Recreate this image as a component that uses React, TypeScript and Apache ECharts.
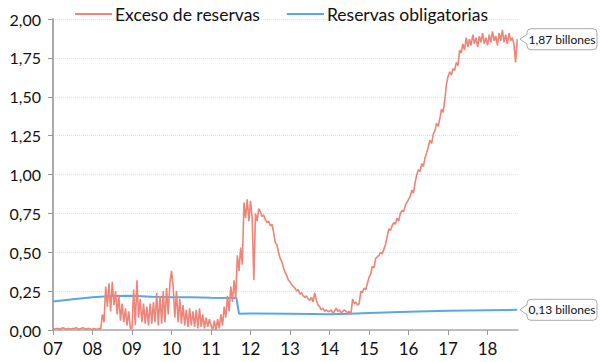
import React, { useEffect, useRef } from "react";
import * as echarts from "echarts";

// Excess reserves (billions), semi-monthly samples per year
const ex2007 = [0.01, 0.005, 0.01, 0.01, 0.005, 0.01, 0.015, 0.01, 0.005, 0.01, 0.01, 0.005, 0.01, 0.01, 0.015, 0.01, 0.005, 0.01, 0.015, 0.01, 0.005, 0.01, 0.01, 0.005];
const ex2008 = [0.005, 0.01, 0.005, 0.005, 0.01, 0.005, 0.1, 0.05, 0.28, 0.15, 0.3, 0.12, 0.31, 0.16, 0.25, 0.1, 0.22, 0.06, 0.17, 0.05, 0.14, 0.03, 0.12, 0.01];
const ex2009 = [0.01, 0.26, 0.03, 0.32, 0.08, 0.2, 0.05, 0.17, 0.04, 0.15, 0.03, 0.17, 0.04, 0.18, 0.05, 0.24, 0.03, 0.22, 0.04, 0.25, 0.05, 0.27, 0.1, 0.3];
const ex2010 = [0.38, 0.28, 0.08, 0.25, 0.05, 0.2, 0.04, 0.16, 0.03, 0.13, 0.02, 0.14, 0.03, 0.12, 0.02, 0.13, 0.01, 0.14, 0.02, 0.1, 0.01, 0.08, 0.02, 0.07];
const ex2011 = [0.03, 0.0, 0.06, 0.0, 0.07, 0.01, 0.1, 0.03, 0.15, 0.08, 0.22, 0.12, 0.28, 0.18, 0.32, 0.2, 0.48, 0.38, 0.53, 0.42, 0.82, 0.72, 0.84, 0.7];
const ex2012 = [0.83, 0.72, 0.32, 0.75, 0.7, 0.78, 0.76, 0.73, 0.74, 0.71, 0.69, 0.7, 0.67, 0.68, 0.63, 0.56, 0.55, 0.5, 0.46, 0.44, 0.4, 0.37, 0.35, 0.32];
const ex2013 = [0.31, 0.29, 0.28, 0.27, 0.25, 0.26, 0.23, 0.24, 0.22, 0.21, 0.22, 0.2, 0.19, 0.21, 0.18, 0.24, 0.19, 0.16, 0.15, 0.13, 0.14, 0.12, 0.13, 0.12];
const ex2014 = [0.12, 0.13, 0.11, 0.12, 0.14, 0.12, 0.13, 0.11, 0.12, 0.13, 0.12, 0.11, 0.12, 0.1, 0.2, 0.17, 0.18, 0.16, 0.17, 0.25, 0.24, 0.27, 0.26, 0.3];
const ex2015 = [0.34, 0.36, 0.41, 0.4, 0.46, 0.47, 0.48, 0.5, 0.49, 0.52, 0.55, 0.6, 0.65, 0.64, 0.67, 0.69, 0.68, 0.72, 0.7, 0.75, 0.77, 0.76, 0.8, 0.82];
const ex2016 = [0.84, 0.86, 0.9, 0.88, 0.95, 1.0, 1.03, 1.02, 1.07, 1.05, 1.11, 1.14, 1.18, 1.22, 1.2, 1.26, 1.28, 1.33, 1.31, 1.36, 1.42, 1.4, 1.48, 1.58];
const ex2017 = [1.63, 1.66, 1.64, 1.68, 1.67, 1.72, 1.7, 1.8, 1.78, 1.84, 1.8, 1.88, 1.82, 1.87, 1.83, 1.9, 1.84, 1.88, 1.82, 1.89, 1.85, 1.91, 1.84, 1.88];
const ex2018 = [1.83, 1.9, 1.85, 1.92, 1.86, 1.89, 1.83, 1.91, 1.86, 1.93, 1.85, 1.9, 1.84, 1.91, 1.86, 1.88, 1.84, 1.72, 1.87];
const excessYears = [2007, 2008, 2009, 2010, 2011, 2012, 2013, 2014, 2015, 2016, 2017, 2018];
const excessByYear = [ex2007, ex2008, ex2009, ex2010, ex2011, ex2012, ex2013, ex2014, ex2015, ex2016, ex2017, ex2018];
const samplesPerYear = 24;

// Required reserves (billions)
const reqDates = [2007.0, 2007.5, 2008.0, 2008.5, 2009.0, 2009.5, 2010.0, 2010.5, 2011.0, 2011.5, 2011.64, 2011.71, 2012.0, 2013.0, 2014.0, 2014.5, 2015.0, 2016.0, 2017.0, 2018.0, 2018.75];
const reqValues = [0.183, 0.198, 0.21, 0.218, 0.22, 0.214, 0.21, 0.21, 0.207, 0.206, 0.206, 0.104, 0.106, 0.104, 0.102, 0.104, 0.11, 0.117, 0.123, 0.127, 0.13];

const xTicks = ["07", "08", "09", "10", "11", "12", "13", "14", "15", "16", "17", "18"];
const seriesNames = ["Exceso de reservas", "Reservas obligatorias"];
const colors = ["#EF8478", "#5BA7E2"];
const FONT = "Lato";

const fmt = (v: number) => v.toFixed(2).replace(".", ",");

export default function App() {
  const ref = useRef<HTMLDivElement>(null);
  useEffect(() => {
    if (!ref.current) return;
    const chart = echarts.init(ref.current, null, { renderer: "svg" });
    const excess: number[][] = [];
    excessByYear.forEach((arr, yi) => {
      arr.forEach((v, i) => excess.push([excessYears[yi] + i / samplesPerYear, v]));
    });
    const req = reqDates.map((d, i) => [d, reqValues[i]]);
    const xMax = 2018.77;
    chart.setOption({
      animation: false,
      textStyle: { fontFamily: FONT },
      legend: {
        left: 70,
        top: 0,
        icon: "rect",
        itemWidth: 37,
        itemHeight: 2,
        itemGap: 27,
        textStyle: { fontFamily: FONT, fontSize: 17.5, color: "#111", padding: [0, 0, 0, -2] },
        data: seriesNames,
      },
      grid: { left: 53, right: 82, top: 19, bottom: 32 },
      xAxis: {
        type: "value",
        min: 2007,
        max: xMax,
        interval: 1,
        axisLine: { show: true, lineStyle: { color: "#aaa", width: 1.5 } },
        axisTick: { show: true, length: 5, lineStyle: { color: "#999" } },
        splitLine: { show: false },
        axisLabel: {
          formatter: (v: number) => xTicks[Math.round(v) - 2007] ?? "",
          color: "#111",
          fontSize: 17,
          fontFamily: FONT,
          margin: 10,
          showMaxLabel: false,
        },
      },
      yAxis: {
        type: "value",
        min: 0,
        max: 2,
        interval: 0.25,
        axisLine: { show: true, lineStyle: { color: "#aaa", width: 2 } },
        axisTick: { show: true, length: 5, lineStyle: { color: "#999" } },
        splitLine: { show: true, lineStyle: { color: "#e3e3e3", type: "dotted", width: 1 } },
        axisLabel: { formatter: fmt, color: "#111", fontSize: 16, fontFamily: FONT, margin: 12 },
      },
      series: [
        {
          name: seriesNames[0],
          type: "line",
          data: excess,
          symbol: "none",
          lineStyle: { color: colors[0], width: 1.6 },
          itemStyle: { color: colors[0] },
          z: 3,
        },
        {
          name: seriesNames[1],
          type: "line",
          data: req,
          symbol: "none",
          lineStyle: { color: colors[1], width: 2 },
          itemStyle: { color: colors[1] },
          z: 2,
        },
      ],
    });

    const lastEx = excess[excess.length - 1];
    const lastReq = req[req.length - 1];
    const callout = (pt: number[], text: string) => {
      const p = chart.convertToPixel({ gridIndex: 0 }, [xMax, pt[1]]) as number[];
      const tipX = p[0] + 2;
      const y = p[1];
      const bx = tipX + 7;
      const w = 70;
      const h = 21;
      return [
        {
          type: "rect",
          shape: { x: bx, y: y - h / 2, width: w, height: h, r: 4 },
          style: { fill: "#fff", stroke: "#aaa", lineWidth: 1 },
          z: 10,
        },
        {
          type: "polygon",
          shape: { points: [[tipX, y], [bx + 1, y - 5], [bx + 1, y + 5]] },
          style: { fill: "#fff", stroke: "none" },
          z: 11,
        },
        {
          type: "polyline",
          shape: { points: [[bx, y - 5], [tipX, y], [bx, y + 5]] },
          style: { stroke: "#aaa", fill: "none", lineWidth: 1 },
          z: 12,
        },
        {
          type: "text",
          x: bx + w / 2,
          y: y,
          style: { text, fill: "#111", fontSize: 12, fontFamily: FONT, align: "center", verticalAlign: "middle" },
          z: 13,
        },
      ];
    };
    chart.setOption({
      graphic: [
        ...callout(lastEx, fmt(lastEx[1]) + " billones"),
        ...callout(lastReq, fmt(lastReq[1]) + " billones"),
      ],
    });
    return () => chart.dispose();
  }, []);
  return <div ref={ref} style={{ width: 600, height: 362, position: "absolute", left: 0, top: 0 }} />;
}
